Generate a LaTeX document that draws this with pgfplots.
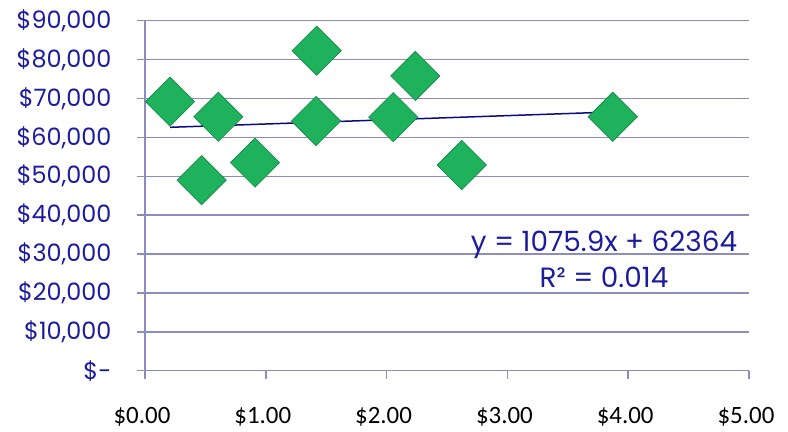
\documentclass[border=0pt]{standalone}
\usepackage{pgfplots}
\pgfplotsset{compat=1.18}
\usepackage{fontspec}
\setmainfont{Poppins}
\newfontfamily\xfont{Carlito}
\definecolor{gridc}{RGB}{140,140,190}
\definecolor{navy}{RGB}{28,28,160}
\definecolor{tline}{RGB}{10,10,130}
\definecolor{mk}{RGB}{30,178,92}
\definecolor{mkd}{RGB}{20,135,68}
\begin{document}
\begin{tikzpicture}[x=1bp,y=1bp]
\path[use as bounding box] (-145bp,-61.3bp) rectangle (643bp,370.7bp);
\begin{axis}[
  at={(0,0)}, anchor=south west,
  scale only axis, width=604bp, height=350bp,
  xmin=0, xmax=5, ymin=0, ymax=90000,
  axis x line=bottom, axis y line=left,
  axis line style={gridc, line width=1.5bp, -},
  xtick={0,1,2,3,4,5},
  xticklabels={\$0.00,\$1.00,\$2.00,\$3.00,\$4.00,\$5.00},
  ytick={0,10000,20000,30000,40000,50000,60000,70000,80000,90000},
  yticklabels={{\$-\hspace{16bp}},{\$10,000},{\$20,000},{\$30,000},{\$40,000},{\$50,000},{\$60,000},{\$70,000},{\$80,000},{\$90,000}},
  scaled y ticks=false,
  ymajorgrids, grid style={gridc, line width=1.5bp},
  tick align=outside, major tick length=8bp,
  tick style={gridc, line width=1.5bp},
  xticklabel style={font=\xfont\fontsize{25}{25}\selectfont, text=black, yshift=-25bp, xshift=-3bp},
  yticklabel style={font=\fontsize{24}{24}\selectfont, text=navy, xshift=-22bp},
  clip=false,
]
\addplot[only marks, mark=square*, mark size=17.4bp,
  mark options={rotate=45, fill=mk, draw=mkd, line width=0.6bp}]
  coordinates {
  (0.207,69170) (0.607,65300) (0.469,49000) (0.911,53500) (1.421,82300)
  (1.416,64200) (2.055,65200) (2.238,75800) (2.622,52900) (3.872,65300)
  };
\addplot[tline, line width=1.5bp] coordinates {(0.207,62587) (3.872,66530)};
\node[align=center, text=navy, font=\fontsize{28}{36}\selectfont] at (axis cs:3.80,28600)
  {y = 1075.9x + 62364\\R² = 0.014};
\end{axis}
\end{tikzpicture}
\end{document}
